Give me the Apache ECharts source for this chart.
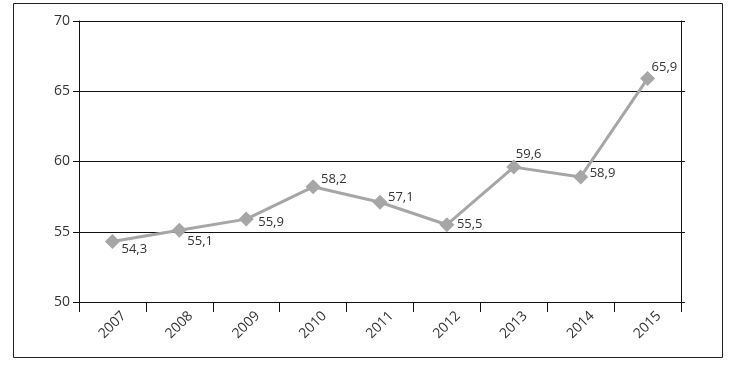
<!DOCTYPE html>
<html>
<head>
<meta charset="utf-8">
<script src="https://cdn.jsdelivr.net/npm/echarts@6/dist/echarts.min.js"></script>
<style>
html,body{margin:0;padding:0;background:#fff;}
#c{width:733px;height:368px;}
</style>
</head>
<body>
<div id="c"></div>
<script>
const categories = ['2007','2008','2009','2010','2011','2012','2013','2014','2015'];
const values = [54.3, 55.1, 55.9, 58.2, 57.1, 55.5, 59.6, 58.9, 65.9];
const yTicks = [50, 55, 60, 65, 70];

// label placement (pixel offsets from the point centre)
const labelOffsets = [[9,8],[8,11],[12,3],[8,-7],[8,-5],[10,0],[2,-13],[9,-4],[4,-11]];

const chart = echarts.init(document.getElementById('c'), null, {renderer:'canvas'});
const font = '"Open Sans", sans-serif';

chart.setOption({
  animation: false,
  backgroundColor: '#fff',
  graphic: [{
    type: 'rect',
    shape: {x: 13.5, y: 3.5, width: 709, height: 354},
    style: {fill: 'none', stroke: '#222', lineWidth: 1},
    silent: true
  }],
  grid: {left: 79, right: 52, top: 21, bottom: 66, containLabel: false},
  xAxis: {
    type: 'category',
    data: categories,
    boundaryGap: true,
    axisLine: {show: true, lineStyle: {color: '#111', width: 1}},
    axisTick: {show: true, length: 10, alignWithLabel: false, lineStyle: {color: '#111'}},
    axisLabel: {rotate: 45, margin: 6, fontSize: 14, color: '#333', fontFamily: font,
                align: 'right', verticalAlign: 'top', padding: [5, -4, 0, 0]},
    splitLine: {show: false}
  },
  yAxis: [{
    type: 'value',
    min: yTicks[0], max: yTicks[yTicks.length-1], interval: 5,
    axisLine: {show: true, lineStyle: {color: '#111', width: 1}},
    axisTick: {show: true, length: 6, lineStyle: {color: '#111'}},
    axisLabel: {fontSize: 14, color: '#333', margin: 9, fontFamily: font},
    splitLine: {show: true, lineStyle: {color: '#111', width: 1}}
  }, {
    type: 'value',
    position: 'right',
    min: yTicks[0], max: yTicks[yTicks.length-1], interval: 5,
    axisLine: {show: true, lineStyle: {color: '#111', width: 1}},
    axisTick: {show: true, length: 4, lineStyle: {color: '#111'}},
    axisLabel: {show: false},
    splitLine: {show: false}
  }],
  series: [{
    type: 'line',
    data: values.map((v, i) => ({
      value: v,
      label: {
        show: true,
        position: 'inside',
        align: 'left',
        verticalAlign: 'middle',
        offset: labelOffsets[i],
        formatter: p => String(p.value).replace('.', ','),
        fontSize: 13,
        color: '#333',
        fontFamily: font
      }
    })),
    symbol: 'diamond',
    symbolSize: 15,
    lineStyle: {color: '#a6a6a6', width: 3},
    itemStyle: {color: '#a6a6a6'}
  }]
});
</script>
</body>
</html>
